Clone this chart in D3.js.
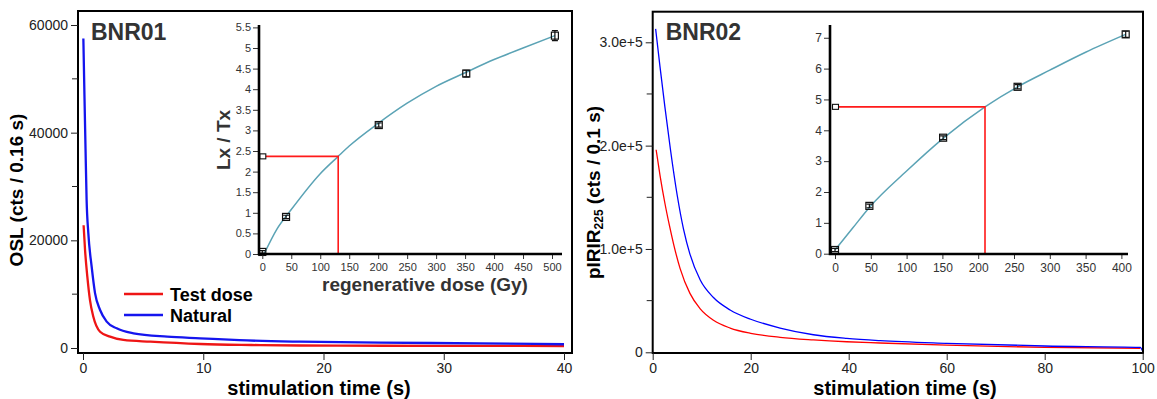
<!DOCTYPE html>
<html><head><meta charset="utf-8">
<script src="https://cdn.jsdelivr.net/npm/d3@7"></script>
<style>body{margin:0;background:#fff} svg{display:block} text{font-family:"Liberation Sans",Arial,sans-serif}</style>
</head><body><svg id="c" width="1157" height="399"></svg>
<script>
// ---------- DATA ----------
// Left panel (BNR01) OSL decay curves
const leftNatT = [0.03,0.12,0.21,0.3,0.44,0.72,1.0,1.42,1.97,2.8,4.2,7,9.75,13,18,24.75,33,40];
const leftNatV = [57500,47000,37000,27500,21400,15100,10200,7060,4900,3650,2730,2100,1800,1450,1170,990,870,700];
const leftTestT = [0.05,0.17,0.36,0.58,0.86,1.42,2.25,3.36,5.6,9.75,14,18,25,33,40];
const leftTestV = [22800,18200,13250,8900,5800,3030,2100,1490,1170,740,560,460,420,390,370];
const leftXTicks = [0,10,20,30,40];
const leftYTicks = [0,20000,40000,60000];
const leftYMinor = [10000,30000,50000];
// Left inset (dose response)
const leftDose = [0,41,201,352,505];
const leftLxTx = [0.05,0.9,3.13,4.38,5.3];
const leftErr = [0.03,0.04,0.05,0.08,0.12];
const leftNatLxTx = 2.37;
const leftDe = 131;
const leftFitDose = [3,25,50,100,131,150,200,250,300,350,400,450,505];
const leftFitLx = [0,0.6,1.08,1.95,2.37,2.62,3.17,3.66,4.07,4.4,4.72,5.0,5.3];
const leftInsetXTicks = [0,50,100,150,200,250,300,350,400,450,500];
const leftInsetYTicks = [0,0.5,1,1.5,2,2.5,3,3.5,4,4.5,5,5.5];
// Right panel (BNR02) pIRIR decay curves
const rightNatT = [0.6,1.5,2.5,3.6,5.0,6.3,7.6,9.7,12.4,15.8,20,26,32.8,39.6,46.4,60,80,99.5,100];
const rightNatV = [313000,276000,237000,197000,152000,119000,95000,70000,53000,41000,32000,23500,17000,13500,11300,8700,6100,4800,1000];
const rightTestT = [0.7,1.5,2.5,3.4,4.3,5.6,7.6,9.7,12.4,15.8,20,26,32.8,39.6,46.4,60,80,99.5];
const rightTestV = [196000,171000,144000,123000,104000,81000,57000,42000,31000,23500,18400,14500,12000,10200,9000,7000,4700,3900];
const rightXTicks = [0,20,40,60,80,100];
const rightYTicks = [0,100000,200000,300000];
const rightYLabels = ["0","1.0e+5","2.0e+5","3.0e+5"];
const rightYMinor = [50000,150000,250000];
// Right inset
const rightDose = [0,48,151,255,406];
const rightLxTx = [0.12,1.55,3.76,5.41,7.11];
const rightErr = [0.05,0.06,0.06,0.07,0.1];
const rightNatLxTx = 4.76;
const rightDe = 209.5;
const rightFitDose = [0,25,48,100,151,209.5,255,300,350,406];
const rightFitLx = [0.12,0.84,1.5,2.68,3.74,4.76,5.41,5.95,6.53,7.11];
const rightInsetXTicks = [0,50,100,150,200,250,300,350,400];
const rightInsetYTicks = [0,1,2,3,4,5,6,7];

// ---------- DRAW ----------
const svg = d3.select("#c");
svg.append("rect").attr("width",1157).attr("height",399).attr("fill","#fff");
const FONT = '"Liberation Sans",Arial,sans-serif';
const TEAL = "#5ba3b5";

function zip(a,b){return a.map((d,i)=>[d,b[i]]);}

function mainPanel(o){
  const g = svg.append("g");
  const x = d3.scaleLinear().domain(o.xDom).range(o.xRange);
  const y = d3.scaleLinear().domain(o.yDom).range(o.yRange);
  const id = "clip"+o.name;
  svg.append("clipPath").attr("id",id).append("rect")
    .attr("x",o.frame[0]).attr("y",o.frame[1]).attr("width",o.frame[2]-o.frame[0]).attr("height",o.frame[3]-o.frame[1]);
  const line = d3.line().x(d=>x(d[0])).y(d=>y(d[1])).curve(d3.curveMonotoneX);
  const cg = g.append("g").attr("clip-path","url(#"+id+")");
  o.series.forEach(s=>{
    cg.append("path").attr("d",line(zip(s.t,s.v))).attr("fill","none")
      .attr("stroke",s.color).attr("stroke-width",s.width).attr("stroke-linejoin","round");
  });
  g.append("rect").attr("x",o.frame[0]).attr("y",o.frame[1])
    .attr("width",o.frame[2]-o.frame[0]).attr("height",o.frame[3]-o.frame[1])
    .attr("fill","none").attr("stroke","#000").attr("stroke-width",2);
  const ya = d3.axisLeft(y).tickValues(o.yTicks).tickSize(7).tickPadding(3)
    .tickFormat((d,i)=>o.yLabels[i]);
  const yg = g.append("g").attr("transform",`translate(${o.frame[0]},0)`).call(ya);
  yg.select(".domain").remove();
  yg.selectAll("text").attr("font-size",14).attr("font-family",FONT).attr("fill","#222");
  yg.selectAll("line").attr("stroke","#222");
  o.yMinor.forEach(v=>{
    g.append("line").attr("x1",o.frame[0]-6).attr("x2",o.frame[0]).attr("y1",y(v)).attr("y2",y(v)).attr("stroke","#222");
  });
  const xa = d3.axisBottom(x).tickValues(o.xTicks).tickSize(7).tickPadding(3).tickFormat(d3.format("d"));
  const xg = g.append("g").attr("transform",`translate(0,${o.frame[3]})`).call(xa);
  xg.select(".domain").remove();
  xg.selectAll("text").attr("font-size",14).attr("font-family",FONT).attr("fill","#222");
  xg.selectAll("line").attr("stroke","#222");
  g.append("text").attr("x",o.xTitleX).attr("y",394.5).attr("text-anchor","middle")
    .attr("font-size",20).attr("font-weight","bold").attr("fill","#000").text("stimulation time (s)");
  g.append("text").attr("x",o.frame[0]+13).attr("y",40).attr("font-size",23).attr("font-weight","bold")
    .attr("fill","#333").text(o.name);
  return {g,x,y};
}

function inset(o){
  const g = svg.append("g");
  const x = d3.scaleLinear().domain(o.xDom).range(o.xRange);
  const y = d3.scaleLinear().domain(o.yDom).range(o.yRange);
  const line = d3.line().x(d=>x(d[0])).y(d=>y(d[1])).curve(d3.curveMonotoneX);
  g.append("path").attr("d",line(zip(o.fitDose,o.fitLx))).attr("fill","none")
    .attr("stroke",TEAL).attr("stroke-width",1.5);
  g.append("path").attr("d",`M${x(0)},${y(o.nat)}H${x(o.de)}V${y(0)}`)
    .attr("fill","none").attr("stroke","#ff1a1a").attr("stroke-width",1.6);
  o.dose.forEach((d,i)=>{
    const cx=x(d), cy=y(o.lx[i]);
    const top=y(o.lx[i]+o.err[i]), bot=y(o.lx[i]-o.err[i]);
    g.append("path").attr("d",`M${cx},${top}V${bot}M${cx-3},${top}H${cx+3}M${cx-3},${bot}H${cx+3}`)
      .attr("stroke","#111").attr("stroke-width",1.2).attr("fill","none");
    g.append("rect").attr("x",cx-3.5).attr("y",cy-3.5).attr("width",7).attr("height",7)
      .attr("fill","none").attr("stroke","#111").attr("stroke-width",1.2);
  });
  g.append("rect").attr("x",x(0)-2.5).attr("y",y(o.nat)-2.5).attr("width",6).attr("height",5)
    .attr("fill","#fff").attr("stroke","#111").attr("stroke-width",1.1);
  const ya = d3.axisLeft(y).tickValues(o.yTicks).tickSize(6).tickPadding(2).tickFormat(d3.format("~g"));
  const yg = g.append("g").attr("transform",`translate(${o.axisX},0)`).call(ya);
  yg.select(".domain").remove();
  yg.selectAll("text").attr("font-size",o.fs).attr("font-family",FONT).attr("fill","#333");
  yg.selectAll("line").attr("stroke","#333");
  const xa = d3.axisBottom(x).tickValues(o.xTicks).tickSize(5).tickPadding(4).tickFormat(d3.format("d"));
  const xg = g.append("g").attr("transform",`translate(0,${o.axisY})`).call(xa);
  xg.select(".domain").remove();
  xg.selectAll("text").attr("font-size",o.fs).attr("font-family",FONT).attr("fill","#333");
  xg.selectAll("line").attr("stroke","#333");
  g.append("path").attr("d",`M${o.axisX},${o.axisTop}V${o.axisY}H${o.axisRight}`)
    .attr("fill","none").attr("stroke","#000").attr("stroke-width",2.6);
  return {g,x,y};
}

// Left main
mainPanel({
  name:"BNR01", xDom:[0,40], xRange:[83,564], yDom:[0,60000], yRange:[348,25],
  frame:[78,11,572,353], xTicks:leftXTicks, yTicks:leftYTicks,
  yLabels:leftYTicks.map(String), yMinor:leftYMinor, xTitleX:319,
  series:[
    {t:leftTestT, v:leftTestV, color:"#ee1515", width:2.3},
    {t:leftNatT, v:leftNatV, color:"#1515ee", width:2.3}
  ]
});
svg.append("text").attr("transform","translate(23,190) rotate(-90)").attr("text-anchor","middle")
  .attr("font-size",19).attr("font-weight","bold").attr("fill","#000").text("OSL (cts / 0.16 s)");
[["Test dose","#ee1515",294],["Natural","#1515ee",315]].forEach(l=>{
  svg.append("line").attr("x1",124).attr("x2",163).attr("y1",l[2]).attr("y2",l[2])
    .attr("stroke",l[1]).attr("stroke-width",2.5);
  svg.append("text").attr("x",170).attr("y",l[2]+6.5).attr("font-size",18).attr("font-weight","bold")
    .attr("fill","#000").text(l[0]);
});
inset({
  xDom:[0,500], xRange:[262.3,552], yDom:[0,5.5], yRange:[254,27.4],
  dose:leftDose, lx:leftLxTx, err:leftErr, nat:leftNatLxTx, de:leftDe,
  fitDose:leftFitDose, fitLx:leftFitLx, xTicks:leftInsetXTicks, yTicks:leftInsetYTicks,
  axisX:259, axisY:254, axisTop:25, axisRight:562, fs:11
});
svg.append("text").attr("transform","translate(230,140) rotate(-90)").attr("text-anchor","middle")
  .attr("font-size",19).attr("font-weight","bold").attr("fill","#333").text("Lx / Tx");
svg.append("text").attr("x",425).attr("y",291).attr("text-anchor","middle")
  .attr("font-size",19).attr("font-weight","bold").attr("fill","#333").text("regenerative dose (Gy)");

// Right main
mainPanel({
  name:"BNR02", xDom:[0,100], xRange:[652.7,1142.7], yDom:[0,300000], yRange:[352.3,42.3],
  frame:[652.7,11.7,1143,353], xTicks:rightXTicks, yTicks:rightYTicks,
  yLabels:rightYLabels, yMinor:rightYMinor, xTitleX:905,
  series:[
    {t:rightTestT, v:rightTestV, color:"#ff0000", width:1.3},
    {t:rightNatT, v:rightNatV, color:"#0000ff", width:1.3}
  ]
});
const rt = svg.append("text").attr("transform","translate(600,192.5) rotate(-90)").attr("text-anchor","middle")
  .attr("font-size",19).attr("font-weight","bold").attr("fill","#000");
rt.append("tspan").text("pIRIR");
rt.append("tspan").attr("font-size",12).attr("dy",3).text("225");
rt.append("tspan").attr("dy",-3).text(" (cts / 0.1 s)");
inset({
  xDom:[0,400], xRange:[835,1121.4], yDom:[0,7], yRange:[253.7,37.75],
  dose:rightDose, lx:rightLxTx, err:rightErr, nat:rightNatLxTx, de:rightDe,
  fitDose:rightFitDose, fitLx:rightFitLx, xTicks:rightInsetXTicks, yTicks:rightInsetYTicks,
  axisX:830, axisY:254, axisTop:25, axisRight:1128, fs:12
});
</script></body></html>
